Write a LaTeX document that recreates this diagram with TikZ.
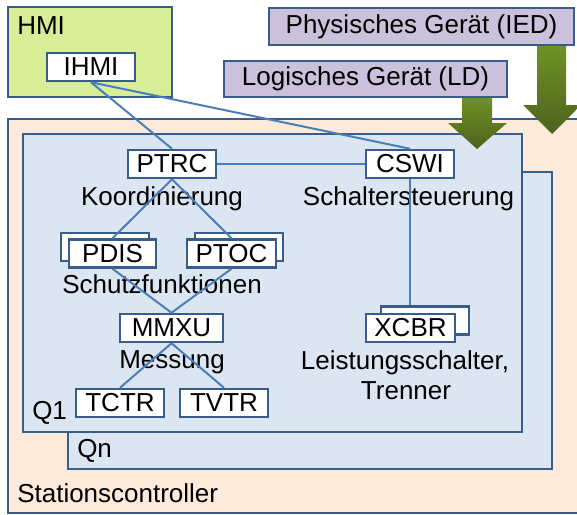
\documentclass[tikz,border=0pt]{standalone}
\usepackage{fontspec}
\setmainfont{Liberation Sans}
\usetikzlibrary{positioning}
\definecolor{rahmen}{RGB}{56,93,138}
\definecolor{linie}{RGB}{74,126,187}
\definecolor{hmigruen}{RGB}{215,238,150}
\definecolor{pfirsich}{RGB}{253,234,218}
\definecolor{hellblau}{RGB}{220,230,242}
\definecolor{lila}{RGB}{204,193,218}
\definecolor{pfeiloben}{RGB}{112,146,36}
\definecolor{pfeilunten}{RGB}{76,98,30}

\begin{document}
\begin{tikzpicture}[x=1pt, y=-1pt, line width=2.5pt,
                    every node/.style={font=\fontsize{26}{30}\selectfont},
                    bereich/.style={draw=rahmen},
                    ln/.style={draw=rahmen, fill=white, inner sep=0pt, minimum width=88pt, minimum height=28pt},
                    geraet/.style={draw=rahmen, fill=lila, inner sep=0pt},
                    pfeil/.style={top color=pfeiloben, bottom color=pfeilunten},
                    verb/.style={draw=linie, line width=2pt},
                    txt/.style={anchor=base, inner sep=0pt}]

\useasboundingbox (0,0) rectangle (577,514);
\clip (0,0) rectangle (577,514);

% Bereiche
\draw[bereich, fill=pfirsich] (8,119) rectangle (600,513);
\draw[bereich, fill=hellblau] (68,172) rectangle (552,469);
\draw[bereich, fill=hellblau] (23,134) rectangle (522,432);
\draw[bereich, fill=hmigruen] (8,7) rectangle (172,97);

% Pfeile
\shade[pfeil] (537,46) -- (566,46) -- (566,105) -- (581,105) -- (552,134) -- (523,105) -- (537,105) -- cycle;
\shade[pfeil] (462,97) -- (492,97) -- (492,123) -- (507,123) -- (477,149) -- (448,123) -- (462,123) -- cycle;

\node[geraet, minimum width=305pt, minimum height=37pt] (ied) at (421.5,26.5) {Physisches Gerät (IED)};
\node[geraet, minimum width=283pt, minimum height=36pt] (ld) at (365.5,79) {Logisches Gerät (LD)};

\node[ln] (ihmi) at (91,67) {IHMI};
\node[ln] (ptrc) at (172,164) {PTRC};
\node[ln] (cswi) at (410,164) {CSWI};
\node[ln] (pdisb) at (105,247) {};
\node[ln, minimum width=87pt] (pdis) at (112.5,253.5) {PDIS};
\node[ln] (ptocb) at (239,247) {};
\node[ln, minimum width=89pt] (ptoc) at (231.5,253.5) {PTOC};
\node[ln, minimum width=103pt] (mmxu) at (171.5,328) {MMXU};
\node[ln] (tctr) at (120,403) {TCTR};
\node[ln] (tvtr) at (224,403) {TVTR};
\node[ln] (xcbrb) at (425,320.5) {};
\node[ln, minimum width=89pt] (xcbr) at (410.5,328) {XCBR};

\node[txt] (koord) at (162,205) {Koordinierung};
\node[txt] (schalt) at (408.5,205) {Schaltersteuerung};
\node[txt] (schutz) at (162,293) {Schutzfunktionen};
\node[txt] (mess) at (172,368) {Messung};
\node[txt] (leist) at (405,369) {Leistungsschalter,};
\node[txt] (trenn) at (406,399) {Trenner};

\node[txt, anchor=base west] (hmi) at (16,34) {HMI};
\node[txt, anchor=base west] (q1) at (31,419) {Q1};
\node[txt, anchor=base west] (qn) at (76,457) {Qn};
\node[txt, anchor=base west] (sc) at (16,502) {Stationscontroller};

 \path[verb]
    (ihmi.south) edge (ptrc.north)
    (ihmi.south) edge (cswi.north)
    (ptrc) edge (cswi)
    (ptrc.south) edge (pdis.north)
    (ptrc.south) edge (ptoc.north)
    (pdis.south) edge (mmxu.north)
    (ptoc.south) edge (mmxu.north)
    (mmxu.south) edge (tctr.north)
    (mmxu.south) edge (tvtr.north);
\draw[verb] (cswi.south) -- (cswi.south |- xcbrb.north);
\end{tikzpicture}
\end{document}
